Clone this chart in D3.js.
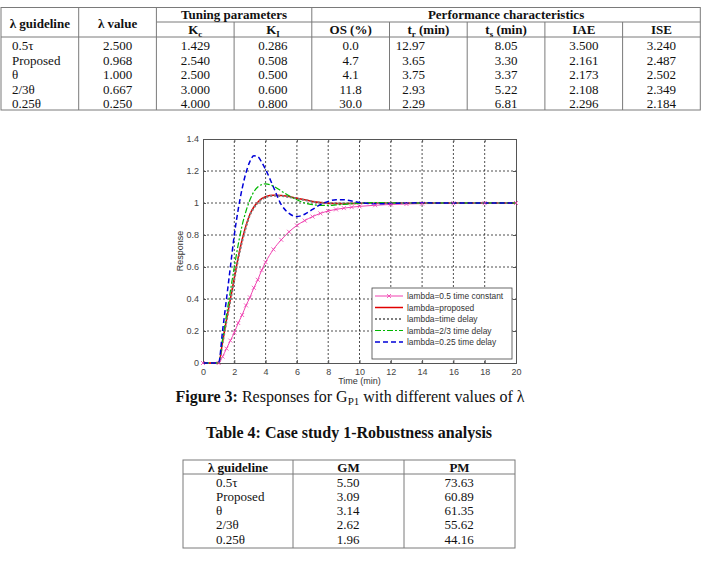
<!DOCTYPE html>
<html>
<head>
<meta charset="utf-8">
<script src="https://cdn.jsdelivr.net/npm/d3@7"></script>
<style>
  body { margin: 0; background: #fff; }
  .serif { font-family: "Liberation Serif", "Times New Roman", serif; }
  .sans { font-family: "Liberation Sans", Arial, sans-serif; }
</style>
</head>
<body>
<script>
// table 3 data
var guidelines = ["0.5τ", "Proposed", "θ", "2/3θ", "0.25θ"];
var lambdaVals = ["2.500", "0.968", "1.000", "0.667", "0.250"];
var kcVals = ["1.429", "2.540", "2.500", "3.000", "4.000"];
var kiVals = ["0.286", "0.508", "0.500", "0.600", "0.800"];
var osVals = ["0.0", "4.7", "4.1", "11.8", "30.0"];
var trVals = ["12.97", "3.65", "3.75", "2.93", "2.29"];
var tsVals = ["8.05", "3.30", "3.37", "5.22", "6.81"];
var iaeVals = ["3.500", "2.161", "2.173", "2.108", "2.296"];
var iseVals = ["3.240", "2.487", "2.502", "2.349", "2.184"];

// table 4 data
var gmVals = ["5.50", "3.09", "3.14", "2.62", "1.96"];
var pmVals = ["73.63", "60.89", "61.35", "55.62", "44.16"];

// figure 3 data
var time = [0, 1, 1.25, 1.5, 1.75, 2, 2.25, 2.5, 2.75, 3, 3.25, 3.5, 3.75, 4, 4.5, 5, 5.5, 6, 6.5, 7, 7.5, 8, 8.5, 9, 9.5, 10, 11, 12, 13, 14, 16, 18, 20];
var resTimeConst = [0, 0, 0.04, 0.09, 0.14, 0.19, 0.25, 0.30, 0.36, 0.41, 0.47, 0.52, 0.58, 0.63, 0.71, 0.77, 0.82, 0.86, 0.89, 0.915, 0.935, 0.95, 0.96, 0.968, 0.974, 0.979, 0.986, 0.991, 0.994, 0.996, 0.998, 0.999, 1.0];
var resProposed = [0, 0, 0.13, 0.27, 0.40, 0.53, 0.66, 0.77, 0.86, 0.93, 0.975, 1.005, 1.027, 1.039, 1.048, 1.047, 1.04, 1.03, 1.02, 1.01, 1.003, 0.999, 0.997, 0.996, 0.997, 0.998, 0.999, 1.0, 1.0, 1.0, 1.0, 1.0, 1.0];
var resDelay = [0, 0, 0.125, 0.26, 0.39, 0.52, 0.65, 0.76, 0.85, 0.925, 0.97, 1.0, 1.022, 1.035, 1.045, 1.044, 1.037, 1.028, 1.018, 1.009, 1.002, 0.999, 0.997, 0.997, 0.998, 0.999, 1.0, 1.0, 1.0, 1.0, 1.0, 1.0, 1.0];
var resTwoThird = [0, 0, 0.15, 0.30, 0.45, 0.60, 0.74, 0.86, 0.95, 1.02, 1.07, 1.10, 1.115, 1.12, 1.105, 1.075, 1.045, 1.02, 1.0, 0.99, 0.985, 0.985, 0.988, 0.992, 0.996, 0.999, 1.002, 1.001, 1.0, 1.0, 1.0, 1.0, 1.0];
var resQuarter = [0, 0, 0.2, 0.4, 0.6, 0.8, 0.96, 1.09, 1.19, 1.26, 1.295, 1.29, 1.255, 1.21, 1.1, 0.99, 0.935, 0.915, 0.93, 0.96, 0.99, 1.01, 1.02, 1.02, 1.012, 1.003, 0.995, 0.997, 1.0, 1.001, 1.0, 1.0, 1.0];
var legendLabels = ["lambda=0.5 time constant", "lambda=proposed", "lambda=time delay", "lambda=2/3 time delay", "lambda=0.25 time delay"];
var xTicks = [0, 2, 4, 6, 8, 10, 12, 14, 16, 18, 20];
var yTicks = [0, 0.2, 0.4, 0.6, 0.8, 1, 1.2, 1.4];

var svg = d3.select("body").append("svg")
    .attr("width", 706)
    .attr("height", 561);

var border = "#7a7a7a";

// ---------- Table 3 ----------
var t3 = svg.append("g").attr("class", "serif").style("font-size", "13px").style("fill", "#111");
var colW = 77.7, tLeft = 1, tTop = 7.5, tMid = 22, tHead = 37, tBottom = 110;
var colX = d3.range(10).map(function(i) { return tLeft + i * colW; });
var rowBase = [50, 64.5, 79, 93.5, 108];

t3.append("rect")
    .attr("x", colX[0]).attr("y", tTop)
    .attr("width", colX[9] - colX[0]).attr("height", tBottom - tTop)
    .style("fill", "none").style("stroke", border);
t3.append("line").attr("x1", colX[2]).attr("x2", colX[9]).attr("y1", tMid).attr("y2", tMid).style("stroke", border);
t3.append("line").attr("x1", colX[0]).attr("x2", colX[9]).attr("y1", tHead).attr("y2", tHead).style("stroke", border);
// vertical lines, some start below the spanning headers
[1, 2, 3, 4, 5, 6, 7, 8].forEach(function(i) {
    var top = (i === 3 || i >= 5) ? tMid : tTop;
    t3.append("line").attr("x1", colX[i]).attr("x2", colX[i]).attr("y1", top).attr("y2", tBottom).style("stroke", border);
});

function cx(i) { return (colX[i] + colX[i + 1]) / 2; }

t3.append("text").attr("x", cx(0)).attr("y", 28).attr("text-anchor", "middle").style("font-weight", "bold").text("λ guideline");
t3.append("text").attr("x", cx(1)).attr("y", 28).attr("text-anchor", "middle").style("font-weight", "bold").text("λ value");
t3.append("text").attr("x", colX[3]).attr("y", 19).attr("text-anchor", "middle").style("font-weight", "bold").text("Tuning parameters");
t3.append("text").attr("x", (colX[4] + colX[9]) / 2).attr("y", 19).attr("text-anchor", "middle").style("font-weight", "bold").text("Performance characteristics");

var subHeads = [
    { col: 2, main: "K", sub: "c", rest: "" },
    { col: 3, main: "K", sub: "I", rest: "" },
    { col: 4, main: "OS (%)", sub: "", rest: "" },
    { col: 5, main: "t", sub: "r", rest: " (min)" },
    { col: 6, main: "t", sub: "s", rest: " (min)" },
    { col: 7, main: "IAE", sub: "", rest: "" },
    { col: 8, main: "ISE", sub: "", rest: "" }
];
subHeads.forEach(function(h) {
    var tx = t3.append("text").attr("x", cx(h.col)).attr("y", 34).attr("text-anchor", "middle").style("font-weight", "bold");
    tx.append("tspan").text(h.main);
    if (h.sub) tx.append("tspan").attr("dy", 2.5).style("font-size", "9px").text(h.sub);
    if (h.rest) tx.append("tspan").attr("dy", -2.5).text(h.rest);
});

var t3cols = [lambdaVals, kcVals, kiVals, osVals, trVals, tsVals, iaeVals, iseVals];
t3.selectAll(".guide").data(guidelines).enter().append("text")
    .attr("x", 12).attr("y", function(d, i) { return rowBase[i]; })
    .text(function(d) { return d; });
t3cols.forEach(function(vals, c) {
    var col = c + 1;
    var rightAlign = (col === 5);
    t3.selectAll(".c" + col).data(vals).enter().append("text")
        .attr("x", rightAlign ? 425 : cx(col))
        .attr("y", function(d, i) { return rowBase[i]; })
        .attr("text-anchor", rightAlign ? "end" : "middle")
        .text(function(d) { return d; });
});

// ---------- Figure 3 ----------
var x = d3.scaleLinear().domain([0, 20]).range([203, 516]);
var y = d3.scaleLinear().domain([0, 1.4]).range([363, 139]);
var chart = svg.append("g").attr("class", "sans");

// grid
chart.selectAll(".gx").data(xTicks.slice(1, -1)).enter().append("line")
    .attr("x1", d => x(d)).attr("x2", d => x(d))
    .attr("y1", y(0)).attr("y2", y(1.4))
    .style("stroke", "#222").style("stroke-width", 0.8).style("stroke-dasharray", "2,2");
chart.selectAll(".gy").data(yTicks.slice(1, -1)).enter().append("line")
    .attr("x1", x(0)).attr("x2", x(20))
    .attr("y1", d => y(d)).attr("y2", d => y(d))
    .style("stroke", "#222").style("stroke-width", 0.8).style("stroke-dasharray", "2,2");

// axes
var fmt = function(d) { return d3.format("")(+d.toFixed(1)); };
var xAxis = chart.append("g").attr("transform", "translate(0," + y(0) + ")")
    .call(d3.axisBottom(x).tickValues(xTicks).tickSize(-3).tickPadding(6).tickFormat(fmt));
var yAxis = chart.append("g").attr("transform", "translate(" + x(0) + ",0)")
    .call(d3.axisLeft(y).tickValues(yTicks).tickSize(-3).tickPadding(4).tickFormat(fmt));
var xTop = chart.append("g").attr("transform", "translate(0," + y(1.4) + ")")
    .call(d3.axisTop(x).tickValues(xTicks).tickSize(-3).tickFormat(""));
var yRight = chart.append("g").attr("transform", "translate(" + x(20) + ",0)")
    .call(d3.axisRight(y).tickValues(yTicks).tickSize(-3).tickFormat(""));
[xAxis, yAxis, xTop, yRight].forEach(function(a) {
    a.selectAll("path, line").style("stroke", "#555");
    a.selectAll("text").style("font-size", "9px").style("fill", "#444").style("font-family", "Liberation Sans, Arial, sans-serif");
});

chart.append("text").attr("x", 359.5).attr("y", 384).attr("text-anchor", "middle")
    .style("font-size", "9px").style("fill", "#333").text("Time (min)");
chart.append("text").attr("transform", "translate(183,251) rotate(-90)").attr("text-anchor", "middle")
    .style("font-size", "9px").style("fill", "#333").text("Response");

var seriesData = [resTimeConst, resProposed, resDelay, resTwoThird, resQuarter];
var styles = [
    { color: "#f040b0", width: 1, dash: null },
    { color: "#e00000", width: 1.5, dash: null },
    { color: "#7d7d7d", width: 2, dash: "2,2" },
    { color: "#00b800", width: 1.2, dash: "6,2,2,2" },
    { color: "#0000d8", width: 1.5, dash: "5,3" }
];

var line = d3.line()
    .x(function(d, i) { return x(time[i]); })
    .y(function(d) { return y(d); })
    .curve(d3.curveMonotoneX);

var plot = chart.append("g");
plot.selectAll(".series").data(seriesData).enter().append("path")
    .attr("d", line)
    .style("fill", "none")
    .style("stroke", (d, i) => styles[i].color)
    .style("stroke-width", (d, i) => styles[i].width)
    .style("stroke-dasharray", (d, i) => styles[i].dash);

// x markers on the pink curve
var mk = 2;
plot.selectAll(".mk").data(resTimeConst).enter().append("path")
    .attr("d", function(d, i) {
        var px = x(time[i]), py = y(d);
        return "M" + (px - mk) + "," + (py - mk) + "L" + (px + mk) + "," + (py + mk) +
               "M" + (px - mk) + "," + (py + mk) + "L" + (px + mk) + "," + (py - mk);
    })
    .style("stroke", styles[0].color).style("stroke-width", 0.8).style("fill", "none");

// legend
var leg = chart.append("g");
leg.append("rect").attr("x", 372).attr("y", 288).attr("width", 140).attr("height", 71)
    .style("fill", "#fff").style("stroke", "#444").style("stroke-width", 0.8);
var legY = [296, 307.5, 319, 330.5, 342];
var items = leg.selectAll(".item").data(legendLabels).enter().append("g")
    .attr("transform", (d, i) => "translate(0," + legY[i] + ")");
items.append("line").attr("x1", 375).attr("x2", 403).attr("y1", 0).attr("y2", 0)
    .style("stroke", (d, i) => styles[i].color)
    .style("stroke-width", (d, i) => styles[i].width)
    .style("stroke-dasharray", (d, i) => styles[i].dash);
items.append("text").attr("x", 407).attr("y", 3).style("font-size", "8.4px").style("fill", "#333")
    .text(d => d);
leg.append("path").attr("d", "M387,294L391,298M387,298L391,294")
    .style("stroke", styles[0].color).style("stroke-width", 0.8);

// captions
var cap = svg.append("text").attr("class", "serif").attr("x", 350).attr("y", 402)
    .attr("text-anchor", "middle").style("font-size", "16px").style("fill", "#111");
cap.append("tspan").style("font-weight", "bold").text("Figure 3:");
cap.append("tspan").text(" Responses for G");
cap.append("tspan").attr("dy", 3).style("font-size", "11px").text("P1");
cap.append("tspan").attr("dy", -3).text(" with different values of λ");

svg.append("text").attr("class", "serif").attr("x", 349).attr("y", 438)
    .attr("text-anchor", "middle").style("font-size", "16px").style("font-weight", "bold").style("fill", "#111")
    .text("Table 4: Case study 1-Robustness analysis");

// ---------- Table 4 ----------
var t4 = svg.append("g").attr("class", "serif").style("font-size", "13px").style("fill", "#111");
var t4x = [183, 293, 404, 515], t4Top = 460, t4Head = 474, t4Bottom = 548;
var t4Base = [486.5, 500.5, 515, 529, 543.5];
t4.append("rect").attr("x", t4x[0]).attr("y", t4Top).attr("width", t4x[3] - t4x[0]).attr("height", t4Bottom - t4Top)
    .style("fill", "none").style("stroke", border);
t4.append("line").attr("x1", t4x[0]).attr("x2", t4x[3]).attr("y1", t4Head).attr("y2", t4Head).style("stroke", border);
[1, 2].forEach(function(i) {
    t4.append("line").attr("x1", t4x[i]).attr("x2", t4x[i]).attr("y1", t4Top).attr("y2", t4Bottom).style("stroke", border);
});
["λ guideline", "GM", "PM"].forEach(function(h, i) {
    t4.append("text").attr("x", (t4x[i] + t4x[i + 1]) / 2).attr("y", 471.5)
        .attr("text-anchor", "middle").style("font-weight", "bold").text(h);
});
t4.selectAll(".g4").data(guidelines).enter().append("text")
    .attr("x", 216).attr("y", (d, i) => t4Base[i]).text(d => d);
t4.selectAll(".gm").data(gmVals).enter().append("text")
    .attr("x", 348).attr("y", (d, i) => t4Base[i]).attr("text-anchor", "middle").text(d => d);
t4.selectAll(".pm").data(pmVals).enter().append("text")
    .attr("x", 459).attr("y", (d, i) => t4Base[i]).attr("text-anchor", "middle").text(d => d);
</script>
</body>
</html>
